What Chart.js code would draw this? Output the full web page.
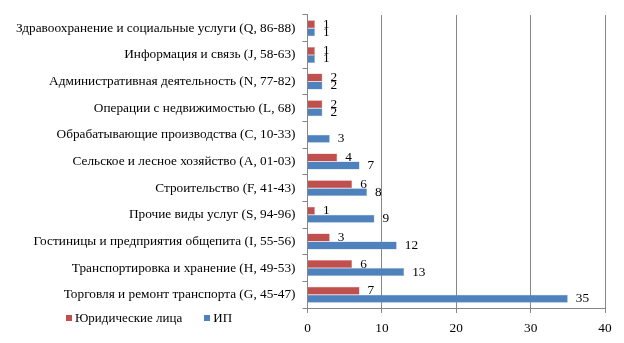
<!DOCTYPE html>
<html>
<head>
<meta charset="utf-8">
<script src="https://cdn.jsdelivr.net/npm/chart.js@4/dist/chart.umd.min.js"></script>
<style>
	body{margin:0;background:#fff;}
	#wrap{position:relative;width:624px;height:343px;}
	#legend{position:absolute;left:66px;top:310px;font:13px "Liberation Serif",serif;color:#000;white-space:nowrap;}
	#legend span.item{display:inline-block;margin-right:22px;}
	#legend i{display:inline-block;width:6px;height:6px;margin-right:3px;vertical-align:1px;}
</style>
</head>
<body>
<div id="wrap">
	<canvas id="bar-chart" width="624" height="343"></canvas>
	<div id="legend"></div>
</div>
<script>
var categories = [
	'Здравоохранение и социальные услуги (Q, 86-88)',
	'Информация и связь (J, 58-63)',
	'Административная деятельность (N, 77-82)',
	'Операции с недвижимостью (L, 68)',
	'Обрабатывающие производства (C, 10-33)',
	'Сельское и лесное хозяйство (A, 01-03)',
	'Строительство (F, 41-43)',
	'Прочие виды услуг (S, 94-96)',
	'Гостиницы и предприятия общепита (I, 55-56)',
	'Транспортировка и хранение (H, 49-53)',
	'Торговля и ремонт транспорта (G, 45-47)'
];
var legalEntities = [1, 1, 2, 2, null, 4, 6, 1, 3, 6, 7];
var soleTraders = [1, 1, 2, 2, 3, 7, 8, 9, 12, 13, 35];
var seriesNames = ['Юридические лица', 'ИП'];
var seriesColors = ['#C0504D', '#4F81BD'];
var seriesEdges = ['#D99694', '#95B3D7'];

var font = {family:'"Liberation Serif", serif', size:13.3};

// value labels to the right of each bar
var valueLabels = {
	id:'valueLabels',
	afterDatasetsDraw:function(chart){
		var ctx = chart.ctx;
		ctx.save();
		ctx.font = '13.3px "Liberation Serif", serif';
		ctx.fillStyle = '#000';
		ctx.textAlign = 'left';
		ctx.textBaseline = 'middle';
		chart.data.datasets.forEach(function(ds, i){
			chart.getDatasetMeta(i).data.forEach(function(bar, j){
				if(ds.data[j] == null) return;
				ctx.fillText(ds.data[j], bar.x + 8, bar.y);
			});
		});
		ctx.restore();
	}
};

var ctx = document.getElementById('bar-chart');
new Chart(ctx, {
	type:'bar',
	data:{
		labels:categories,
		datasets:[
			{label:seriesNames[0], data:legalEntities, backgroundColor:seriesColors[0], borderColor:seriesEdges[0], borderWidth:0.5},
			{label:seriesNames[1], data:soleTraders, backgroundColor:seriesColors[1], borderColor:seriesEdges[1], borderWidth:0.5}
		]
	},
	options:{
		indexAxis:'y',
		responsive:false,
		animation:false,
		layout:{padding:{top:14, right:19, bottom:0, left:0}},
		datasets:{bar:{categoryPercentage:0.6, barPercentage:1}},
		plugins:{
			legend:{display:false},
			tooltip:{enabled:false}
		},
		scales:{
			x:{
				min:0,
				max:40,
				ticks:{stepSize:10, color:'#000', font:font, padding:8},
				grid:{color:'#868686', tickLength:5},
				border:{color:'#868686'},
				afterFit:function(scale){ scale.height = 35; }
			},
			y:{
				ticks:{color:'#000', font:font, padding:7, autoSkip:false},
				grid:{drawOnChartArea:false, color:'#868686', tickLength:5},
				border:{color:'#868686'},
				afterFit:function(scale){ scale.width = 307.5; }
			}
		}
	},
	plugins:[valueLabels]
});

var legend = document.getElementById('legend');
seriesNames.forEach(function(name, i){
	var item = document.createElement('span');
	item.className = 'item';
	item.innerHTML = '<i style="background:' + seriesColors[i] + '"></i>' + name;
	legend.appendChild(item);
});
</script>
</body>
</html>
